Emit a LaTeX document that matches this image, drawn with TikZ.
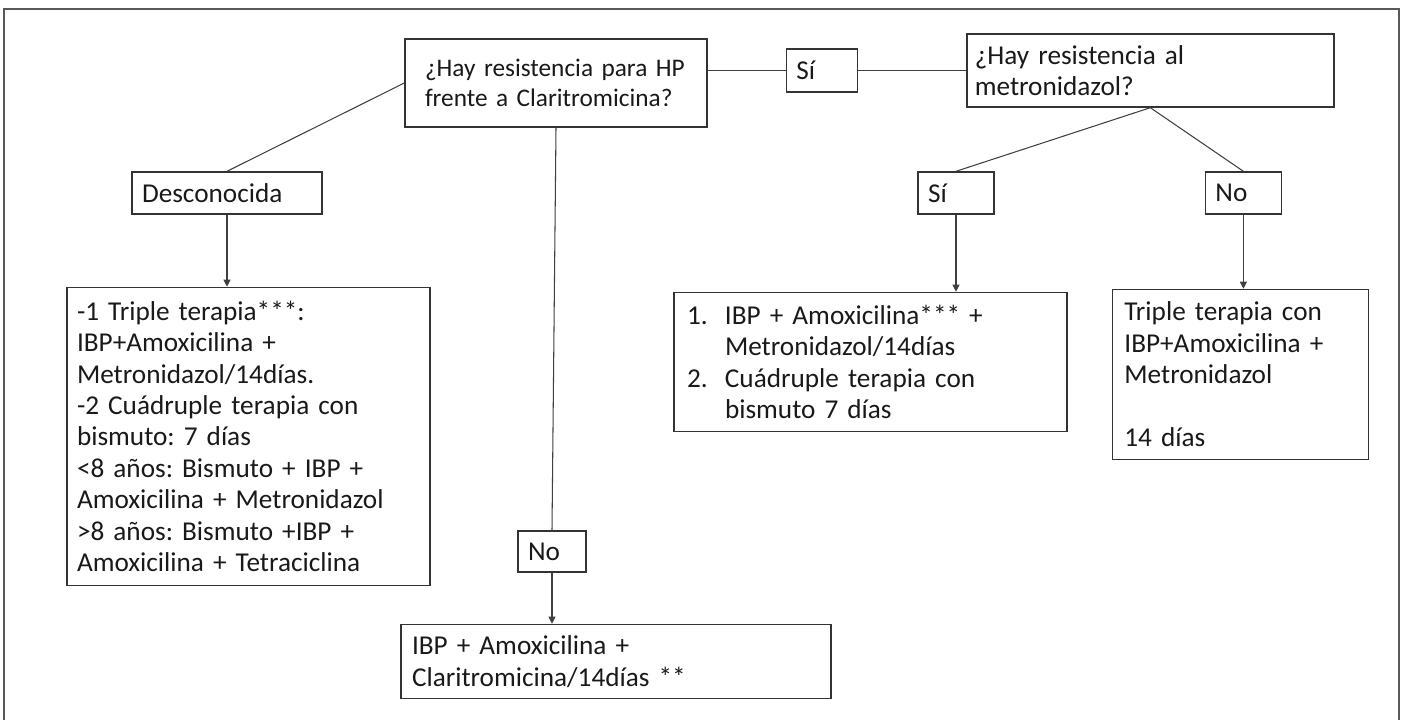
\documentclass[tikz,border=0pt]{standalone}
\usepackage{fontspec}
\setmainfont{Carlito}
\usetikzlibrary{arrows.meta, positioning}
\newcommand{\listnum}[1]{\makebox[0.76cm][l]{#1}}
\frenchspacing

\begin{document}
\begin{tikzpicture}[
        box/.style={draw=black!80, line width=0.8pt, align=left, inner ysep=0pt, text=black!90,
            font=\fontsize{15.5pt}{17.9pt}\selectfont},
        tag/.style={box, inner xsep=0.2cm, minimum height=0.84cm},
        link/.style={draw=black!75, line width=0.6pt},
        arrow/.style={link, -{Triangle[length=4pt, width=4pt]}}
    ]
        \useasboundingbox (0,0) rectangle (28.1,-14.4);
        % Frame
        \draw[gray!70!black, line width=1.2pt] (0.08,-14.4) -- (0.08,-0.18) -- (27.98,-0.18) -- (27.98,-14.4);

        % Questions
        \node[box, font=\fontsize{14.4pt}{17pt}\selectfont, inner xsep=0.4cm, text width=5.24cm, minimum height=1.76cm] (clari) at (11.12,-1.66) {\mbox{¿Hay resistencia para HP}\\\mbox{frente a Claritromicina?}};
        \node[tag, text width=1.02cm, minimum height=0.86cm, right=1.56cm of clari, yshift=0.25cm] (siA) {Sí};
        \node[box, inner xsep=0.16cm, text width=7.02cm, minimum height=1.46cm, right=2.16cm of siA] (metro) {¿Hay resistencia al\\metronidazol?};

        % Answers
        \node[tag, text width=3.4cm] (desc) at (4.54,-3.86) {Desconocida};
        \node[tag, text width=1.12cm] (siB) at (19.12,-3.86) {Sí};
        \node[tag, text width=1.12cm, right=4.2cm of siB] (noB) {No};
        \node[tag, text width=0.96cm, minimum height=0.82cm] (noA) at (11.04,-11.03) {No};

        % Treatments
        \node[box, inner xsep=0.2cm, text width=6.86cm, minimum height=5.96cm, below=1.44cm of desc, xshift=0.43cm] (triple) {-1 Triple terapia***:\\IBP+Amoxicilina +\\Metronidazol/14días.\\-2 Cuádruple terapia con\\bismuto: 7 días\\<8 años: Bismuto + IBP +\\Amoxicilina + Metronidazol\\>8 años: Bismuto +IBP +\\Amoxicilina + Tetraciclina};
        \node[box, inner xsep=0.26cm, text width=7.34cm, minimum height=2.78cm, below=1.54cm of siB, xshift=-1.71cm] (resist) {\listnum{1.}IBP + Amoxicilina*** +\\\listnum{}Metronidazol/14días\\\listnum{2.}Cuádruple terapia con\\\listnum{}bismuto 7 días};
        \node[box, inner xsep=0.24cm, text width=4.64cm, minimum height=3.4cm, below=1.48cm of noB, xshift=-0.06cm] (sensible) {Triple terapia con\\IBP+Amoxicilina +\\Metronidazol\\[0.63cm]14 días};
        \node[box, inner xsep=0.22cm, text width=8.16cm, minimum height=1.48cm, below=1.02cm of noA, xshift=1.28cm] (clariNo) {IBP + Amoxicilina +\\Claritromicina/14días **};

        % Lines
        \draw[link] (desc.north) -- (clari.west);
        \draw[link] (siA.west -| clari.east) -- (siA.west);
        \draw[link] (siA.east) -- (metro.west);
        \draw[link] (clari.south) -- (noA.north);
        \draw[link] (metro.south) -- (siB.north);
        \draw[link] (metro.south) -- (noB.north);

        % Arrows
        \draw[arrow] (desc.south) -- (desc.south |- triple.north);
        \draw[arrow] (noA.south) -- (noA.south |- clariNo.north);
        \draw[arrow] (siB.south) -- (siB.south |- resist.north);
        \draw[arrow] (noB.south) -- (noB.south |- sensible.north);
    \end{tikzpicture}
\end{document}
